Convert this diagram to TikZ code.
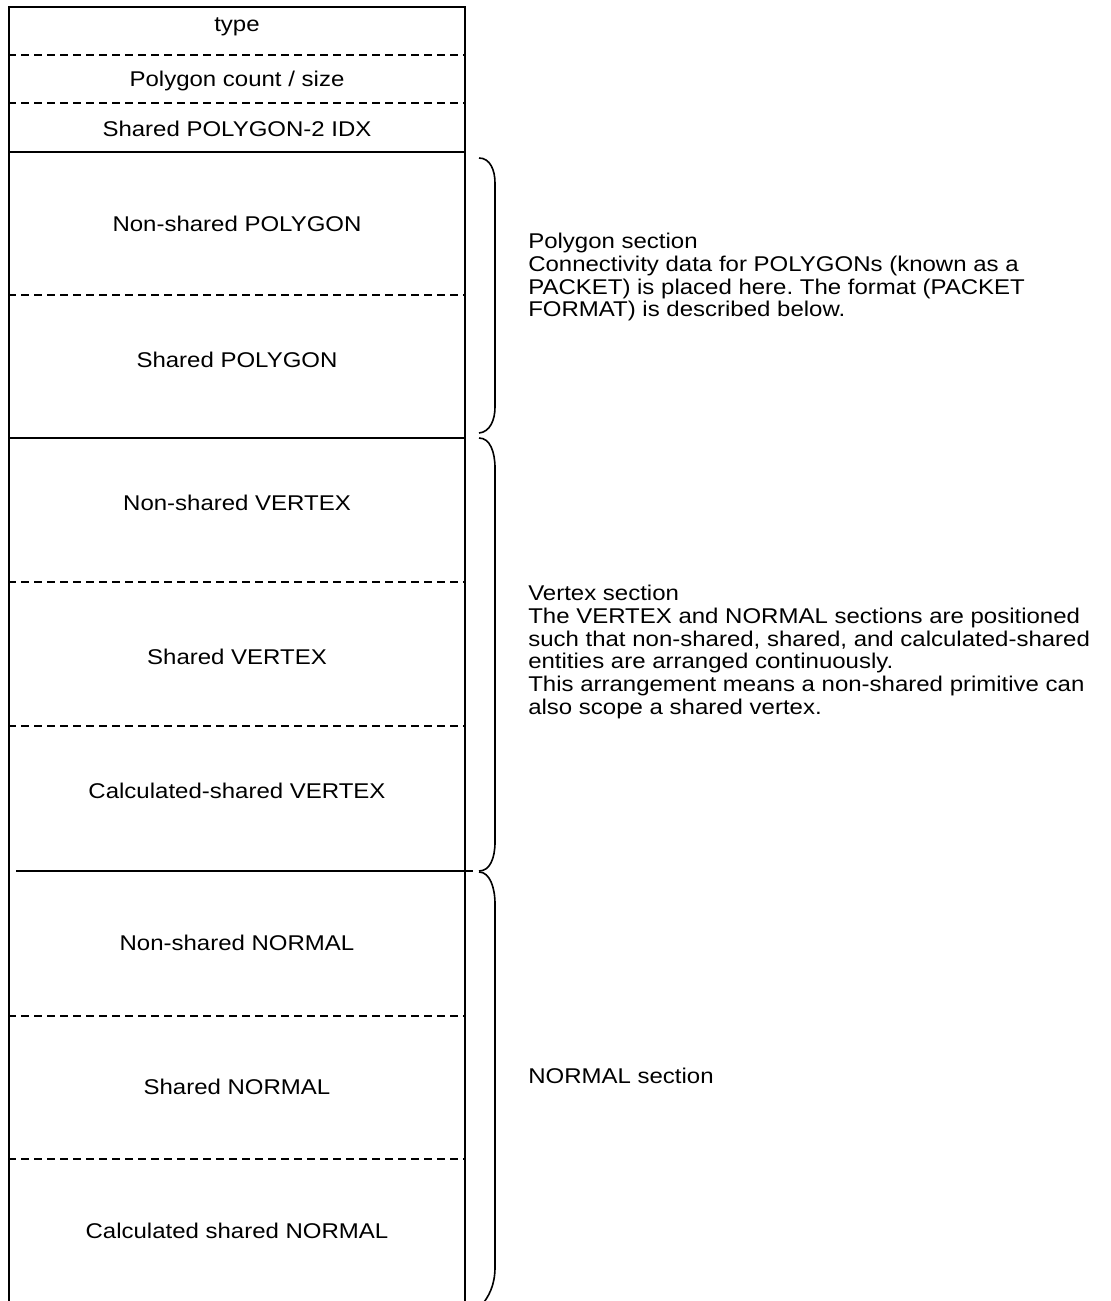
\documentclass[tikz,border=0pt]{standalone}
\usepackage{fontspec}
\setmainfont{Liberation Sans}[FakeStretch=1.125]
\usetikzlibrary{positioning}
\frenchspacing

\begin{document}
\begin{tikzpicture}[
    x=0.75pt, y=-0.75pt,
    font=\fontsize{16pt}{17pt}\selectfont,
    rule/.style={line width=1.2pt},
    split/.style={line width=1.2pt, dash pattern=on 6pt off 3.75pt},
    field/.style={anchor=base, inner sep=0pt},
    note/.style={anchor=base west, align=left, inner sep=0pt},
    brace/.style={line width=1.2pt}
]
\useasboundingbox (0,0) rectangle (1110,1301);
\clip (0,0) rectangle (1110,1301);

% frame, open at the bottom
\draw[rule] (9,1310) -- (9,7) -- (465,7) -- (465,1310);

% header fields
\draw[split] (8,55) -- (465,55);
\draw[split] (8,103) -- (465,103);
\draw[rule] (8,152) -- (465,152);

% polygon section
\draw[split] (8,295) -- (465,295);
\draw[rule] (9,438) -- (466,438);

% vertex section
\draw[split] (8,582) -- (465,582);
\draw[split] (8,726) -- (465,726);
\draw[rule] (16,871) -- (473,871);

% normal section
\draw[split] (8,1016) -- (465,1016);
\draw[split] (8,1159) -- (465,1159);

\node[field] (type) at (237,32) {type};
\node[field] (count) at (237,87) {Polygon count / size};
\node[field] (sharedidx) at (237,137) {Shared POLYGON-2 IDX};
\node[field] (nspoly) at (237,232) {Non-shared POLYGON};
\node[field] (spoly) at (237,368) {Shared POLYGON};
\node[field] (nsvert) at (237,510) {Non-shared VERTEX};
\node[field] (svert) at (237,664) {Shared VERTEX};
\node[field] (csvert) at (237,798) {Calculated-shared VERTEX};
\node[field] (nsnorm) at (237,950) {Non-shared NORMAL};
\node[field] (snorm) at (237,1094) {Shared NORMAL};
\node[field] (csnorm) at (237,1238) {Calculated shared NORMAL};

% braces
\draw[brace] (479,158) .. controls (490,158) and (495,170) .. (495,183)
    -- (495,407) .. controls (495,420) and (490,432) .. (479,433);
\draw[brace] (479,438) .. controls (490,438) and (495,452) .. (495,468)
    -- (495,842) .. controls (495,858) and (490,871) .. (479,871);
\draw[brace] (479,872) .. controls (490,872) and (495,888) .. (495,904)
    -- (495,1267) .. controls (495,1285) and (489,1297) .. (480,1307);

% notes (base anchor sits on the last line)
\node[note] (polysec) at (528,317) {Polygon section\\Connectivity data for POLYGONs (known as a\\PACKET) is placed here. The format (PACKET\\FORMAT) is described below.};
\node[note] (vertsec) at (528,714) {Vertex section\\The VERTEX and NORMAL sections are positioned\\such that non-shared, shared, and calculated-shared\\entities are arranged continuously.\\This arrangement means a non-shared primitive can\\also scope a shared vertex.};
\node[note] (normsec) at (528,1083) {NORMAL section};
\end{tikzpicture}
\end{document}
